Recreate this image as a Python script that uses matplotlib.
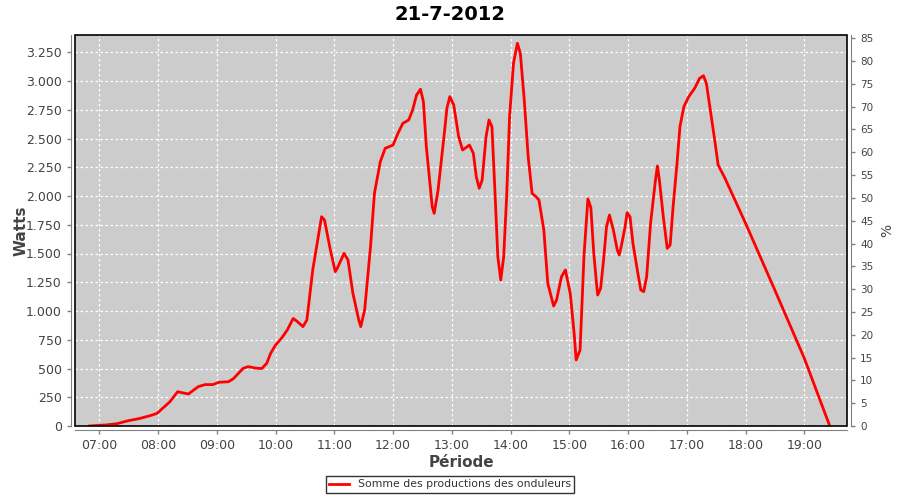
import matplotlib
matplotlib.use('Agg')
import matplotlib.pyplot as plt
from matplotlib.patches import Rectangle
from matplotlib.ticker import FuncFormatter

# Data (time of day, watts)
times = ['06:50', '07:08', '07:18', '07:29', '07:41', '07:52', '07:59', '08:12', '08:20', '08:31',
         '08:41', '08:48', '08:56', '09:02', '09:12', '09:17', '09:27', '09:32', '09:41', '09:46',
         '09:51', '09:55', '10:00', '10:06', '10:12', '10:18', '10:22', '10:28', '10:32', '10:38',
         '10:47', '10:50', '10:56', '11:01', '11:03', '11:10', '11:14', '11:19', '11:25', '11:27',
         '11:31', '11:37', '11:41', '11:47', '11:52', '12:00', '12:05', '12:10', '12:16', '12:20',
         '12:24', '12:28', '12:31', '12:34', '12:40', '12:42', '12:46', '12:52', '12:55', '12:58',
         '13:02', '13:07', '13:11', '13:18', '13:22', '13:25', '13:28', '13:31', '13:35', '13:38',
         '13:41', '13:44', '13:47', '13:50', '13:53', '13:56', '13:59', '14:03', '14:07', '14:10',
         '14:14', '14:18', '14:22', '14:26', '14:29', '14:34', '14:38', '14:44', '14:47', '14:52',
         '14:56', '15:01', '15:05', '15:07', '15:11', '15:15', '15:19', '15:22', '15:25', '15:28',
         '15:29', '15:32', '15:35', '15:38', '15:41', '15:45', '15:49', '15:51', '15:53', '15:57',
         '15:59', '16:02', '16:05', '16:10', '16:13', '16:16', '16:19', '16:23', '16:28', '16:30',
         '16:32', '16:36', '16:40', '16:43', '16:46', '16:50', '16:53', '16:57', '17:02', '17:08',
         '17:13', '17:17', '17:20', '17:23', '17:28', '17:32', '17:39', '18:00', '18:30', '19:00',
         '19:26']
watts = [0, 10, 20, 45, 65, 90, 110, 210, 298, 278,
         342, 360, 360, 380, 385, 412, 502, 516, 502, 500,
         545, 632, 704, 762, 835, 935, 910, 864, 922, 1357,
         1820, 1791, 1530, 1342, 1370, 1502, 1443, 1154, 922, 864,
         1009, 1560, 2023, 2299, 2415, 2443, 2545, 2632, 2661, 2748,
         2878, 2928, 2820, 2429, 1907, 1849, 2052, 2516, 2763, 2864,
         2791, 2516, 2400, 2443, 2371, 2168, 2067, 2139, 2516, 2661,
         2603, 2052, 1472, 1270, 1472, 1994, 2690, 3154, 3328, 3241,
         2835, 2342, 2023, 1994, 1965, 1704, 1241, 1043, 1096, 1298,
         1357, 1150, 800, 574, 661, 1480, 1975, 1900, 1500, 1220,
         1139, 1197, 1443, 1733, 1835, 1704, 1530, 1487, 1560, 1733,
         1855, 1820, 1588, 1328, 1183, 1168, 1298, 1763, 2139, 2261,
         2139, 1820, 1545, 1574, 1907, 2284, 2603, 2777, 2864, 2936,
         3023, 3046, 2980, 2806, 2516, 2270, 2154, 1763, 1180, 589,
         0]

hour_ticks = [7, 8, 9, 10, 11, 12, 13, 14, 15, 16, 17, 18, 19]
watt_ticks = [0, 250, 500, 750, 1000, 1250, 1500, 1750, 2000, 2250, 2500, 2750, 3000, 3250]
pct_ticks = list(range(0, 90, 5))

hours = [int(t[:2]) + int(t[3:]) / 60 for t in times]

fig = plt.figure(figsize=(9, 5), dpi=100)
ax = fig.add_axes([75 / 900, 74 / 500, 772 / 900, 391 / 500])
ax.set_facecolor('#cccccc')

ax.plot(hours, watts, color='red', lw=2, label='Somme des productions des onduleurs')

ax.set_xlim(6 + 35.2 / 60, 19 + 43.6 / 60)
ax.set_ylim(0, 3400)
ax.set_xticks(hour_ticks)
ax.set_xticklabels(['%02d:00' % h for h in hour_ticks])
ax.set_yticks(watt_ticks)
ax.yaxis.set_major_formatter(FuncFormatter(lambda v, p: '{:,}'.format(int(v)).replace(',', '.')))
ax.grid(True, color='white', linestyle=(0, (2, 2)), linewidth=0.9)

tick_color = '#444444'
for side in ['top', 'right']:
    ax.spines[side].set_visible(False)
for side in ['left', 'bottom']:
    ax.spines[side].set_position(('outward', 3))
    ax.spines[side].set_color('#808080')
ax.tick_params(colors='#808080', labelcolor=tick_color, labelsize=9, length=3, width=1)

ax.add_patch(Rectangle((0, 0), 1, 1, transform=ax.transAxes, fill=False,
                       edgecolor='black', lw=1.2, zorder=5, clip_on=False))

ax2 = ax.twinx()
ax2.set_ylim(0, 85.7)
ax2.set_yticks(pct_ticks)
for side in ['top', 'left', 'bottom']:
    ax2.spines[side].set_visible(False)
ax2.spines['right'].set_position(('outward', 3))
ax2.spines['right'].set_color('#808080')
ax2.tick_params(colors='#808080', labelcolor=tick_color, labelsize=7.5, length=3, width=1)
ax2.set_ylabel('%', fontsize=10, color='#444444')
ax2.yaxis.set_label_coords(1.043, 0.5)

ax.set_xlabel('Période', fontsize=11, fontweight='bold', color='#444444')
ax.xaxis.set_label_coords(0.5, -0.075)
ax.set_ylabel('Watts', fontsize=11, fontweight='bold', color='#444444')
ax.yaxis.set_label_coords(-0.06, 0.5)
fig.suptitle('21-7-2012', fontsize=14, fontweight='bold', y=0.99)

leg = fig.legend(loc='lower center', bbox_to_anchor=(0.5, 0.003), fontsize=7.8,
                 frameon=True, fancybox=False, handlelength=1.8, borderpad=0.35,
                 labelcolor='#333333')
leg.get_frame().set_edgecolor('black')
leg.get_frame().set_linewidth(1)

fig.savefig('out.png', dpi=100)
